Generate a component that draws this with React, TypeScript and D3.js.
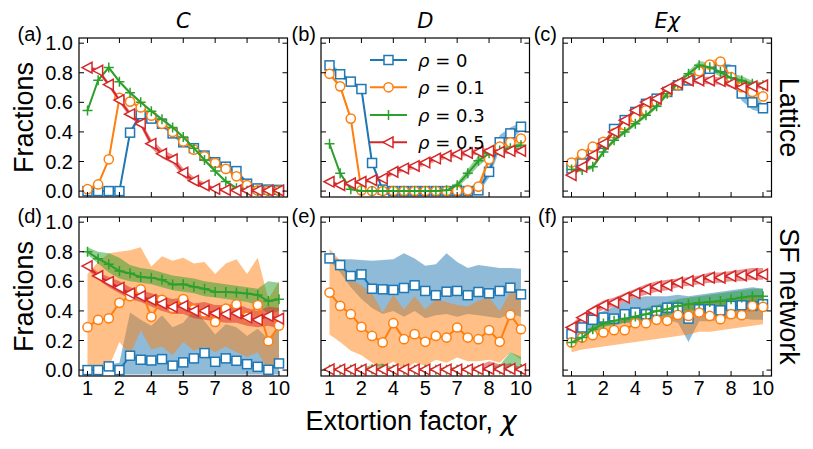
import React from 'react';
import * as d3 from 'd3';

// ---------- data ----------
const X = [1, 1.5, 2, 2.5, 3, 3.5, 4, 4.5, 5, 5.5, 6, 6.5, 7, 7.5, 8, 8.5, 9, 9.5, 10];
const xTickValues = [1, 2.5, 4, 5.5, 7, 8.5, 10];
const xTickLabels = ['1', '2', '4', '5', '7', '8', '10'];
const yTickValues = [0, 0.2, 0.4, 0.6, 0.8, 1.0];
const yTickLabels = ['0.0', '0.2', '0.4', '0.6', '0.8', '1.0'];
const rhoValues = ['0', '0.1', '0.3', '0.5'];
const colors = ['#1f77b4', '#ff7f0e', '#2ca02c', '#d62728'];
const markerKinds = ['square', 'circle', 'plus', 'triangle'];
const columnTitles = ['C', 'D', 'Eχ'];
const panelLabels = ['(a)', '(b)', '(c)', '(d)', '(e)', '(f)'];
const rowLabels = ['Lattice', 'SF network'];

// (a) Lattice, C
const aBlue = [0, 0, 0, 0, 0.395, 0.52, 0.49, 0.455, 0.39, 0.33, 0.29, 0.24, 0.195, 0.165, 0.135, 0.05, 0.018, 0.01, 0.008];
const aOrange = [0.013, 0.045, 0.215, 0.63, 0.605, 0.565, 0.51, 0.455, 0.4, 0.335, 0.28, 0.235, 0.19, 0.15, 0.1, 0.04, 0.005, 0.003, 0.003];
const aGreen = [0.545, 0.75, 0.835, 0.74, 0.665, 0.6, 0.54, 0.485, 0.43, 0.365, 0.29, 0.21, 0.135, 0.065, 0.02, 0.003, 0, 0, 0];
const aRed = [0.835, 0.815, 0.72, 0.615, 0.52, 0.456, 0.32, 0.252, 0.215, 0.125, 0.07, 0.038, 0.015, 0.008, 0.005, 0.004, 0.004, 0.004, 0.004];
const aBlueErr = [0.005, 0.005, 0.005, 0.005, 0.015, 0.02, 0.02, 0.02, 0.02, 0.02, 0.02, 0.02, 0.02, 0.02, 0.02, 0.015, 0.01, 0.005, 0.005];
const aOrangeErr = [0.005, 0.01, 0.01, 0.01, 0.01, 0.01, 0.01, 0.01, 0.01, 0.01, 0.01, 0.01, 0.01, 0.01, 0.01, 0.01, 0.005, 0.005, 0.005];
const aGreenErr = [0.01, 0.01, 0.01, 0.01, 0.01, 0.01, 0.01, 0.01, 0.01, 0.01, 0.01, 0.01, 0.01, 0.01, 0.01, 0.005, 0.005, 0.005, 0.005];
const aRedErr = [0.01, 0.015, 0.015, 0.02, 0.02, 0.02, 0.03, 0.03, 0.03, 0.03, 0.025, 0.02, 0.01, 0.008, 0.005, 0.005, 0.005, 0.005, 0.005];

// (b) Lattice, D
const bBlue = [0.85, 0.79, 0.74, 0.69, 0.19, 0.01, 0, 0, 0, 0, 0, 0, 0, 0, 0.005, 0.13, 0.33, 0.39, 0.435];
const bOrange = [0.793, 0.708, 0.49, 0.005, 0, 0, 0, 0, 0, 0, 0, 0, 0.002, 0.005, 0.03, 0.215, 0.3, 0.33, 0.355];
const bGreen = [0.32, 0.12, 0.012, 0, 0, 0, 0, 0, 0, 0, 0, 0.005, 0.04, 0.12, 0.205, 0.255, 0.275, 0.29, 0.31];
const bRed = [0.063, 0.04, 0.052, 0.063, 0.074, 0.085, 0.13, 0.153, 0.17, 0.193, 0.22, 0.238, 0.25, 0.258, 0.265, 0.272, 0.265, 0.272, 0.272];
const bBlueErr = [0.02, 0.02, 0.015, 0.015, 0.02, 0.01, 0.002, 0.002, 0.002, 0.002, 0.002, 0.002, 0.002, 0.005, 0.02, 0.04, 0.05, 0.04, 0.03];
const bOrangeErr = [0.015, 0.015, 0.02, 0.005, 0.002, 0.002, 0.002, 0.002, 0.002, 0.002, 0.002, 0.002, 0.005, 0.01, 0.02, 0.03, 0.025, 0.02, 0.02];
const bGreenErr = [0.01, 0.01, 0.005, 0.002, 0.002, 0.002, 0.002, 0.002, 0.002, 0.002, 0.002, 0.005, 0.02, 0.03, 0.035, 0.03, 0.02, 0.02, 0.02];
const bRedErr = [0.01, 0.01, 0.01, 0.01, 0.015, 0.015, 0.02, 0.02, 0.02, 0.02, 0.02, 0.02, 0.02, 0.02, 0.02, 0.02, 0.02, 0.02, 0.02];

// (c) Lattice, E chi
const cBlue = [0.153, 0.187, 0.254, 0.32, 0.42, 0.48, 0.535, 0.59, 0.625, 0.67, 0.715, 0.748, 0.78, 0.827, 0.838, 0.816, 0.66, 0.6, 0.56];
const cOrange = [0.193, 0.25, 0.3, 0.333, 0.39, 0.445, 0.497, 0.546, 0.602, 0.67, 0.715, 0.76, 0.81, 0.856, 0.876, 0.77, 0.703, 0.67, 0.64];
const cGreen = [0.146, 0.142, 0.164, 0.265, 0.344, 0.4, 0.456, 0.512, 0.573, 0.658, 0.726, 0.793, 0.85, 0.838, 0.805, 0.766, 0.748, 0.726, 0.715];
const cRed = [0.108, 0.164, 0.243, 0.321, 0.4, 0.479, 0.546, 0.602, 0.625, 0.692, 0.73, 0.748, 0.748, 0.748, 0.744, 0.726, 0.7, 0.708, 0.715];
const cBlueErr = [0.01, 0.01, 0.01, 0.01, 0.01, 0.01, 0.01, 0.01, 0.01, 0.015, 0.015, 0.015, 0.02, 0.02, 0.03, 0.04, 0.05, 0.05, 0.03];
const cOrangeErr = [0.015, 0.015, 0.015, 0.015, 0.015, 0.015, 0.015, 0.015, 0.015, 0.015, 0.015, 0.015, 0.015, 0.025, 0.025, 0.03, 0.03, 0.025, 0.02];
const cGreenErr = [0.015, 0.015, 0.015, 0.015, 0.015, 0.015, 0.015, 0.015, 0.015, 0.015, 0.015, 0.02, 0.03, 0.03, 0.03, 0.03, 0.03, 0.02, 0.02];
const cRedErr = [0.015, 0.015, 0.015, 0.015, 0.015, 0.015, 0.015, 0.015, 0.015, 0.015, 0.015, 0.015, 0.025, 0.025, 0.025, 0.025, 0.025, 0.02, 0.02];

// (d) SF network, C
const dBlue = [0, 0, 0.025, 0, 0.097, 0.07, 0.065, 0.074, 0.03, 0.052, 0.079, 0.115, 0.056, 0.079, 0.063, 0.04, 0.022, 0.002, 0.045];
const dOrange = [0.29, 0.34, 0.35, 0.455, 0.5, 0.545, 0.36, 0.475, 0.42, 0.48, 0.41, 0.39, 0.325, 0.415, 0.445, 0.36, 0.44, 0.195, 0.3];
const dGreen = [0.8, 0.753, 0.715, 0.67, 0.654, 0.63, 0.625, 0.61, 0.578, 0.58, 0.564, 0.55, 0.528, 0.528, 0.524, 0.517, 0.508, 0.467, 0.479];
const dRed = [0.703, 0.636, 0.596, 0.557, 0.519, 0.5, 0.474, 0.449, 0.427, 0.434, 0.4, 0.4, 0.384, 0.378, 0.384, 0.355, 0.34, 0.366, 0.348];
const dBlueLo = [0, 0, 0, -0.03, -0.03, -0.03, -0.03, -0.03, -0.03, -0.03, -0.03, -0.03, -0.03, -0.03, -0.03, -0.03, -0.03, -0.03, -0.03];
const dBlueHi = [0, 0, 0.04, 0.05, 0.39, 0.34, 0.3, 0.37, 0.29, 0.32, 0.41, 0.33, 0.24, 0.31, 0.29, 0.23, 0.28, 0.21, 0.29];
const dOrangeLo = [0, 0, 0.02, 0.19, 0.1, 0.27, 0.14, 0.16, 0.1, 0.19, 0.13, 0.16, 0.12, 0.16, 0.12, 0.09, 0.12, 0, 0.05];
const dOrangeHi = [0.65, 0.73, 0.79, 0.8, 0.81, 0.83, 0.7, 0.77, 0.74, 0.76, 0.72, 0.73, 0.65, 0.72, 0.75, 0.65, 0.76, 0.48, 0.6];
const dGreenLo = [0.78, 0.72, 0.66, 0.62, 0.6, 0.59, 0.58, 0.56, 0.54, 0.53, 0.52, 0.5, 0.49, 0.48, 0.47, 0.46, 0.44, 0.38, 0.4];
const dGreenHi = [0.83, 0.8, 0.79, 0.76, 0.71, 0.69, 0.68, 0.66, 0.64, 0.63, 0.62, 0.6, 0.59, 0.58, 0.57, 0.56, 0.55, 0.6, 0.59];
const dRedLo = [0.68, 0.61, 0.56, 0.52, 0.48, 0.46, 0.43, 0.4, 0.38, 0.38, 0.35, 0.34, 0.33, 0.32, 0.32, 0.3, 0.29, 0.3, 0.28];
const dRedHi = [0.72, 0.66, 0.63, 0.6, 0.56, 0.54, 0.52, 0.5, 0.48, 0.49, 0.45, 0.46, 0.44, 0.44, 0.45, 0.42, 0.4, 0.43, 0.42];

// (e) SF network, D
const eBlue = [0.755, 0.71, 0.636, 0.647, 0.55, 0.546, 0.542, 0.555, 0.573, 0.535, 0.506, 0.53, 0.535, 0.506, 0.528, 0.519, 0.535, 0.557, 0.512];
const eOrange = [0.524, 0.434, 0.378, 0.292, 0.231, 0.187, 0.317, 0.209, 0.243, 0.191, 0.231, 0.22, 0.288, 0.22, 0.209, 0.27, 0.191, 0.373, 0.276];
const eGreen = [0.002, 0.002, 0.002, 0.002, 0.005, 0.008, 0.003, 0.002, 0.002, 0.002, 0.002, 0.003, 0.003, 0.002, 0.002, 0.004, 0.006, 0.01, 0.008];
const eRed = [0.005, 0.004, 0.004, 0.004, 0.004, 0.004, 0.004, 0.004, 0.004, 0.004, 0.004, 0.004, 0.004, 0.004, 0.006, 0.008, 0.006, 0.008, 0.005];
const eBlueLo = [0.74, 0.66, 0.56, 0.48, 0.42, 0.38, 0.4, 0.36, 0.4, 0.35, 0.37, 0.38, 0.36, 0.38, 0.37, 0.36, 0.35, 0.38, 0.36];
const eBlueHi = [0.76, 0.75, 0.75, 0.745, 0.74, 0.745, 0.75, 0.79, 0.755, 0.705, 0.715, 0.79, 0.73, 0.69, 0.71, 0.7, 0.69, 0.69, 0.685];
const eOrangeLo = [0.24, 0.19, 0.13, 0.1, 0.05, 0.01, 0.06, 0, 0.05, 0.03, 0.07, 0.05, 0.085, 0.06, 0.06, 0.07, 0.05, 0.12, 0.07];
const eOrangeHi = [0.82, 0.74, 0.62, 0.57, 0.52, 0.39, 0.51, 0.41, 0.5, 0.41, 0.48, 0.46, 0.44, 0.43, 0.47, 0.49, 0.4, 0.53, 0.54];
const eGreenLo = [-0.005, -0.005, -0.005, -0.005, -0.005, -0.005, -0.005, -0.005, -0.005, -0.005, -0.005, -0.005, -0.005, -0.005, -0.005, -0.005, -0.005, -0.005, -0.005];
const eGreenHi = [0.01, 0.01, 0.01, 0.015, 0.035, 0.045, 0.02, 0.01, 0.01, 0.01, 0.01, 0.02, 0.02, 0.01, 0.015, 0.025, 0.035, 0.12, 0.09];
const eRedLo = [-0.005, -0.005, -0.005, -0.005, -0.005, -0.005, -0.005, -0.005, -0.005, -0.005, -0.005, -0.005, -0.005, -0.005, -0.005, -0.005, -0.005, -0.005, -0.005];
const eRedHi = [0.01, 0.01, 0.01, 0.01, 0.01, 0.01, 0.01, 0.01, 0.01, 0.01, 0.01, 0.01, 0.01, 0.015, 0.03, 0.06, 0.04, 0.045, 0.02];

// (f) SF network, E chi
const fBlue = [0.243, 0.288, 0.34, 0.355, 0.348, 0.378, 0.389, 0.378, 0.4, 0.422, 0.422, 0.348, 0.411, 0.411, 0.404, 0.434, 0.438, 0.434, 0.445];
const fOrange = [0.187, 0.22, 0.236, 0.254, 0.27, 0.27, 0.317, 0.317, 0.34, 0.333, 0.373, 0.366, 0.389, 0.366, 0.344, 0.378, 0.371, 0.434, 0.427];
const fGreen = [0.187, 0.22, 0.276, 0.315, 0.333, 0.348, 0.362, 0.378, 0.4, 0.411, 0.434, 0.445, 0.456, 0.461, 0.467, 0.479, 0.49, 0.5, 0.5];
const fRed = [0.288, 0.355, 0.4, 0.438, 0.456, 0.49, 0.519, 0.546, 0.564, 0.573, 0.591, 0.602, 0.609, 0.625, 0.625, 0.636, 0.64, 0.647, 0.647];
const fBlueLo = [0.22, 0.25, 0.28, 0.3, 0.3, 0.32, 0.31, 0.32, 0.33, 0.34, 0.32, 0.19, 0.33, 0.33, 0.34, 0.35, 0.35, 0.34, 0.34];
const fBlueHi = [0.27, 0.32, 0.37, 0.4, 0.43, 0.46, 0.49, 0.5, 0.5, 0.5, 0.51, 0.5, 0.51, 0.52, 0.53, 0.54, 0.55, 0.56, 0.55];
const fOrangeLo = [0.12, 0.14, 0.15, 0.16, 0.17, 0.18, 0.19, 0.2, 0.21, 0.22, 0.23, 0.24, 0.26, 0.26, 0.27, 0.28, 0.29, 0.3, 0.31];
const fOrangeHi = [0.21, 0.25, 0.28, 0.31, 0.33, 0.35, 0.38, 0.39, 0.41, 0.42, 0.44, 0.45, 0.46, 0.46, 0.46, 0.47, 0.48, 0.5, 0.5];
const fGreenLo = [0.17, 0.2, 0.25, 0.29, 0.31, 0.32, 0.33, 0.34, 0.36, 0.37, 0.39, 0.4, 0.41, 0.41, 0.42, 0.43, 0.44, 0.45, 0.45];
const fGreenHi = [0.2, 0.24, 0.3, 0.34, 0.36, 0.38, 0.4, 0.42, 0.44, 0.46, 0.48, 0.49, 0.5, 0.51, 0.52, 0.53, 0.54, 0.55, 0.55];
const fRedLo = [0.27, 0.33, 0.37, 0.41, 0.43, 0.46, 0.49, 0.51, 0.53, 0.54, 0.56, 0.57, 0.58, 0.59, 0.59, 0.6, 0.6, 0.61, 0.61];
const fRedHi = [0.31, 0.38, 0.43, 0.47, 0.49, 0.52, 0.55, 0.58, 0.6, 0.61, 0.62, 0.63, 0.64, 0.66, 0.66, 0.67, 0.68, 0.69, 0.69];

// ---------- panel table built from the arrays ----------
type Series = { v: number[]; lo: number[]; hi: number[] };
const withErr = (v: number[], e: number[]): Series => ({ v, lo: v.map((d, i) => d - e[i]), hi: v.map((d, i) => d + e[i]) });
const panels: Series[][] = [
  [withErr(aBlue, aBlueErr), withErr(aOrange, aOrangeErr), withErr(aGreen, aGreenErr), withErr(aRed, aRedErr)],
  [withErr(bBlue, bBlueErr), withErr(bOrange, bOrangeErr), withErr(bGreen, bGreenErr), withErr(bRed, bRedErr)],
  [withErr(cBlue, cBlueErr), withErr(cOrange, cOrangeErr), withErr(cGreen, cGreenErr), withErr(cRed, cRedErr)],
  [{ v: dBlue, lo: dBlueLo, hi: dBlueHi }, { v: dOrange, lo: dOrangeLo, hi: dOrangeHi }, { v: dGreen, lo: dGreenLo, hi: dGreenHi }, { v: dRed, lo: dRedLo, hi: dRedHi }],
  [{ v: eBlue, lo: eBlueLo, hi: eBlueHi }, { v: eOrange, lo: eOrangeLo, hi: eOrangeHi }, { v: eGreen, lo: eGreenLo, hi: eGreenHi }, { v: eRed, lo: eRedLo, hi: eRedHi }],
  [{ v: fBlue, lo: fBlueLo, hi: fBlueHi }, { v: fOrange, lo: fOrangeLo, hi: fOrangeHi }, { v: fGreen, lo: fGreenLo, hi: fGreenHi }, { v: fRed, lo: fRedLo, hi: fRedHi }],
];

// ---------- layout ----------
const W = 813;
const H = 449;
const colX = [79, 321, 563];
const rowY = [38, 217];
const labelGap = [37, 5, 6];
const PW = 208.5;
const PH = 159;
const SANS = '"Liberation Sans", Arial, sans-serif';
const MATH = '"DejaVu Sans", sans-serif';

function Marker({ kind, x, y, color }: { kind: string; x: number; y: number; color: string }) {
  const sw = 1.5;
  if (kind === 'square') return <rect x={x - 4.5} y={y - 4.5} width={9} height={9} fill="#fff" stroke={color} strokeWidth={sw} />;
  if (kind === 'circle') return <circle cx={x} cy={y} r={4.6} fill="#fff" stroke={color} strokeWidth={sw} />;
  if (kind === 'plus') return <path d={`M${x - 5},${y}H${x + 5}M${x},${y - 5}V${y + 5}`} stroke={color} strokeWidth={sw} fill="none" />;
  return <path d={`M${x - 5.5},${y}L${x + 4.5},${y - 5.3}L${x + 4.5},${y + 5.3}Z`} fill="#fff" stroke={color} strokeWidth={sw} strokeLinejoin="miter" />;
}

function Panel({ idx }: { idx: number }) {
  const col = idx % 3;
  const row = Math.floor(idx / 3);
  const x0 = colX[col];
  const y0 = rowY[row];
  const xs = d3.scaleLinear().domain([0.6, 10.4]).range([x0, x0 + PW]);
  const ys = d3.scaleLinear().domain([-0.04, 1.035]).range([y0 + PH, y0]);
  const data = panels[idx];
  const clipId = `clip${idx}`;
  const line = d3.line<number>().x((_, i) => xs(X[i])).y((d) => ys(d));
  const area = (s: Series) =>
    d3.area<number>().x((_, i) => xs(X[i])).y0((_, i) => ys(s.lo[i])).y1((_, i) => ys(s.hi[i]))(s.v) || '';
  const tl = 5;
  return (
    <g>
      <defs>
        <clipPath id={clipId}>
          <rect x={x0} y={y0} width={PW} height={PH} />
        </clipPath>
      </defs>
      <g clipPath={`url(#${clipId})`}>
        {data.map((s, k) => (
          <path key={'a' + k} d={area(s)} fill={colors[k]} fillOpacity={0.5} stroke="none" />
        ))}
        {data.map((s, k) => (
          <g key={'l' + k}>
            <path d={line(s.v) || ''} fill="none" stroke={colors[k]} strokeWidth={2} />
            {s.v.map((d, i) => (
              <Marker key={i} kind={markerKinds[k]} x={xs(X[i])} y={ys(d)} color={colors[k]} />
            ))}
          </g>
        ))}
      </g>
      {xTickValues.map((t, i) => (
        <g key={'xt' + i} stroke="#000" strokeWidth={1}>
          <line x1={xs(t)} x2={xs(t)} y1={y0 + PH} y2={y0 + PH - tl} />
          <line x1={xs(t)} x2={xs(t)} y1={y0} y2={y0 + tl} />
        </g>
      ))}
      {yTickValues.map((t, i) => (
        <g key={'yt' + i} stroke="#000" strokeWidth={1}>
          <line x1={x0} x2={x0 + tl} y1={ys(t)} y2={ys(t)} />
          <line x1={x0 + PW} x2={x0 + PW - tl} y1={ys(t)} y2={ys(t)} />
        </g>
      ))}
      <rect x={x0} y={y0} width={PW} height={PH} fill="none" stroke="#000" strokeWidth={1.2} />
      {col === 0 &&
        yTickValues.map((t, i) => (
          <text key={'yl' + i} x={x0 - 6} y={ys(t) + 7} textAnchor="end" fontSize={20} fontFamily={SANS}>
            {yTickLabels[i]}
          </text>
        ))}
      {row === 1 &&
        xTickValues.map((t, i) => (
          <text key={'xl' + i} x={xs(t)} y={y0 + PH + 18.5} textAnchor="middle" fontSize={20} fontFamily={SANS}>
            {xTickLabels[i]}
          </text>
        ))}
      <text x={x0 - labelGap[col]} y={y0 + (row === 0 ? 3 : 6)} textAnchor="end" fontSize={20} fontFamily={SANS}>
        {panelLabels[idx]}
      </text>
      {row === 0 && (
        <text x={x0 + PW / 2} y={y0 - 10} textAnchor="middle" fontSize={21} fontFamily={MATH} fontStyle="italic">
          {columnTitles[col]}
        </text>
      )}
      {col === 0 && (
        <text transform={`translate(33,${y0 + PH / 2}) rotate(-90)`} textAnchor="middle" fontSize={27} fontFamily={SANS}>
          Fractions
        </text>
      )}
      {col === 2 && (
        <text transform={`translate(780,${y0 + PH / 2}) rotate(90)`} textAnchor="middle" fontSize={27} fontFamily={SANS}>
          {rowLabels[row]}
        </text>
      )}
    </g>
  );
}

function Legend() {
  const rows = [60, 87.3, 115, 142.3];
  return (
    <g>
      {rhoValues.map((r, k) => (
        <g key={k}>
          <line x1={370} x2={407} y1={rows[k]} y2={rows[k]} stroke={colors[k]} strokeWidth={2} />
          <Marker kind={markerKinds[k]} x={388.5} y={rows[k]} color={colors[k]} />
          <text x={418} y={rows[k] + 7} fontSize={18} fontFamily={MATH}>
            <tspan fontStyle="italic">ρ</tspan>
            {' = ' + r}
          </text>
        </g>
      ))}
    </g>
  );
}

export default function App() {
  return (
    <svg width={W} height={H} viewBox={`0 0 ${W} ${H}`} style={{ position: 'absolute', left: 0, top: 0, background: '#fff' }}>
      <rect x={0} y={0} width={W} height={H} fill="#fff" />
      {[0, 1, 2, 3, 4, 5].map((i) => (
        <Panel key={i} idx={i} />
      ))}
      <Legend />
      <text x={411} y={430} textAnchor="middle" fontSize={27} fontFamily={SANS}>
        Extortion factor, <tspan fontFamily={MATH} fontStyle="italic">χ</tspan>
      </text>
    </svg>
  );
}
